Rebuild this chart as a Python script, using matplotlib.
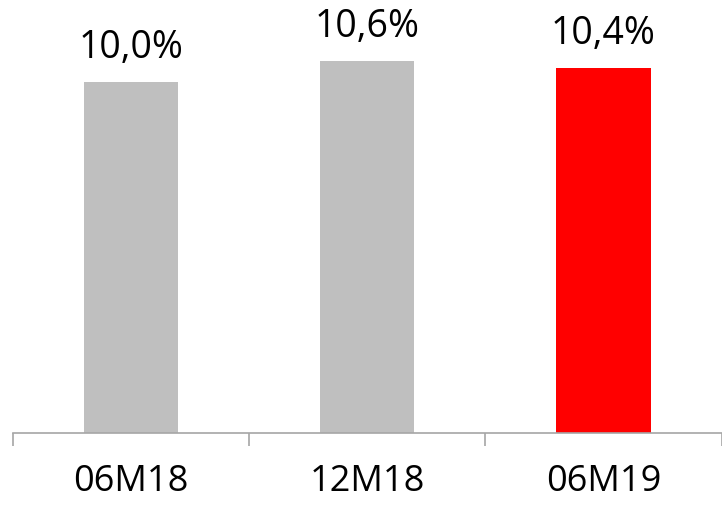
import matplotlib.pyplot as plt
import numpy as np

categories = ['06M18', '12M18', '06M19']
values = [10.0, 10.6, 10.4]
colors = ['#BFBFBF', '#BFBFBF', '#FF0000']

plt.rcParams['font.family'] = ['Open Sans', 'DejaVu Sans']

fig = plt.figure(figsize=(7.22, 5.05), dpi=100)
ax = fig.add_axes([13/722, 1 - 433/505, 1 - 13/722 - 0.5/722, 433/505])

x = np.arange(len(categories))
bars = ax.bar(x, values, width=0.40, color=colors)

# value labels above the bars, comma as decimal separator
for b, v in zip(bars, values):
    ax.annotate(('%.1f%%' % v).replace('.', ','),
                (b.get_x() + b.get_width() / 2, b.get_height()),
                xytext=(0, 11), textcoords='offset points',
                ha='center', va='bottom', fontsize=27)

ax.set_xlim(-0.5, len(categories) - 0.5)
ax.set_ylim(0, 433 / 35.1)

# category boundaries get the tick marks, labels sit in the middle
ax.set_xticks(np.arange(len(categories) + 1) - 0.5)
ax.set_xticklabels([])
ax.set_xticks(x, minor=True)
ax.set_xticklabels(categories, minor=True, fontsize=26)
ax.tick_params(axis='x', which='major', length=9.5, width=1.2, color='#A6A6A6')
ax.tick_params(axis='x', which='minor', length=0, pad=22)

ax.set_yticks([])
for s in ['top', 'right', 'left']:
    ax.spines[s].set_visible(False)
ax.spines['bottom'].set_color('#A6A6A6')
ax.spines['bottom'].set_linewidth(1.2)

plt.savefig('out.png', dpi=100)
